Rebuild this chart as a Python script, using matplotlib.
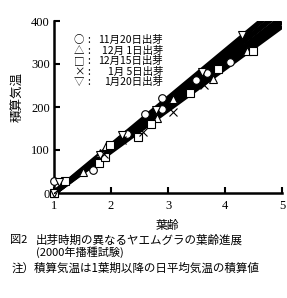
import matplotlib
matplotlib.use("Agg")
import matplotlib.pyplot as plt
import numpy as np

# ---- data ----
series_labels = ["11月20日出芽", "12月 1日出芽", "12月15日出芽", "1月 5日出芽", "1月20日出芽"]
series_symbols = ["○", "△", "□", "×", "▽"]

circle_x = [1.0, 1.0, 1.69, 2.28, 2.60, 2.89, 2.89, 3.49, 3.69, 4.09]
circle_y = [0, 27, 54, 137, 184, 195, 220, 263, 279, 305]

tri_up_x = [1.0, 1.5, 1.8, 1.91, 2.8, 3.09, 3.79, 4.39]
tri_up_y = [0, 49, 93, 109, 175, 218, 265, 330]

square_x = [1.0, 1.19, 1.79, 1.9, 1.98, 2.47, 2.70, 3.39, 3.88, 4.49]
square_y = [0, 28, 70, 84, 112, 130, 160, 232, 288, 331]

cross_x = [1.0, 1.88, 2.2, 2.56, 3.09, 3.63]
cross_y = [0, 90, 123, 142, 188, 251]

tri_down_x = [1.0, 1.09, 1.8, 2.2, 2.79, 3.6, 4.30]
tri_down_y = [0, 26, 88, 135, 193, 281, 367]

# regression slopes (cumulative temperature per leaf), lines start at leaf age 1
reg_slopes = [110, 106, 102, 99.5, 97]

x_ticks = [1, 2, 3, 4, 5]
y_ticks = [0, 100, 200, 300, 400]

# ---- figure ----
W, H = 287, 298
fig = plt.figure(figsize=(W / 100, H / 100), dpi=100)
fig.patch.set_facecolor("white")
ax = fig.add_axes([54 / W, 1 - 193 / H, 228 / W, 172 / H])

cjk = ["Noto Sans CJK JP", "DejaVu Sans"]
serif = ["Liberation Serif", "DejaVu Serif"]

xr = np.array([1.0, 5.0])
for s in reg_slopes:
    ax.plot(xr, s * (xr - 1), color="black", lw=3.8, solid_capstyle="butt", zorder=2)

mk = dict(ms=5.5, mfc="white", mec="black", mew=0.8, ls="none", zorder=3, clip_on=False)
ax.plot(circle_x, circle_y, marker="o", **mk)
ax.plot(tri_up_x, tri_up_y, marker="^", **mk)
ax.plot(square_x, square_y, marker="s", **mk)
ax.plot(tri_down_x, tri_down_y, marker="v", **mk)
ax.plot(cross_x, cross_y, marker="x", ms=5.5, color="black", mew=0.8, ls="none", zorder=3)

ax.set_xlim(1, 5)
ax.set_ylim(0, 400)
ax.set_xticks(x_ticks)
ax.set_yticks(y_ticks)
ax.set_xticklabels([str(v) for v in x_ticks], fontfamily=serif, fontsize=9)
ax.set_yticklabels([str(v) for v in y_ticks], fontfamily=serif, fontsize=9)
ax.tick_params(direction="in", length=4, width=1.5, pad=3)
ax.tick_params(axis="x", pad=5)
for sp in ["top", "right"]:
    ax.spines[sp].set_visible(False)
for sp in ["left", "bottom"]:
    ax.spines[sp].set_linewidth(1.8)

# legend as text
leg_y0 = 40
for i, (sym, lab) in enumerate(zip(series_symbols, series_labels)):
    yy = 1 - (leg_y0 + i * 10.6) / H
    fig.text(79 / W, yy, sym, ha="center", va="center", fontsize=7.5, family=cjk)
    fig.text(89 / W, yy, ":", ha="center", va="center", fontsize=7.5, family=cjk)
    fig.text(163 / W, yy, lab, ha="right", va="center", fontsize=7.5, family=cjk)

# axis labels
fig.text(17 / W, 1 - 97 / H, "積算気温", rotation=90, ha="center", va="center", fontsize=9, family=cjk)
fig.text(167 / W, 1 - 225.5 / H, "葉齢", ha="center", va="center", fontsize=8.5, family=cjk)

# caption
fig.text(10 / W, 1 - 240 / H, "図2", ha="left", va="center", fontsize=8, family=cjk)
fig.text(36 / W, 1 - 240 / H, "出芽時期の異なるヤエムグラの葉齢進展", ha="left", va="center", fontsize=8.3, family=cjk)
fig.text(36 / W, 1 - 252 / H, "(2000年播種試験)", ha="left", va="center", fontsize=8, family=cjk)
fig.text(12 / W, 1 - 268 / H, "注）積算気温は1葉期以降の日平均気温の積算値", ha="left", va="center", fontsize=8.3, family=cjk)

fig.savefig("out.png", dpi=100, facecolor="white")
